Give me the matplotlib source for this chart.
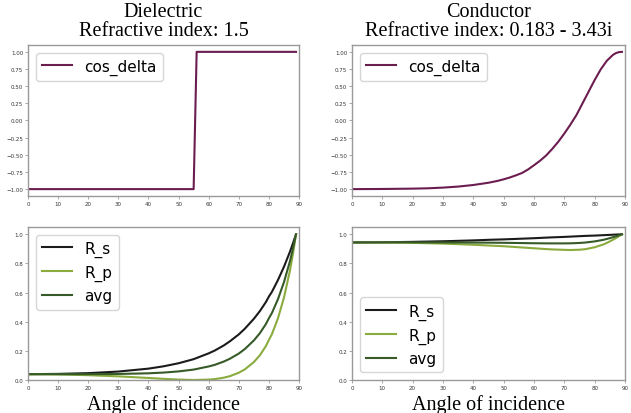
import numpy as np
import matplotlib
matplotlib.use('Agg')
import matplotlib.pyplot as plt

# angle index on the x axis
x_die = [0, 10, 20, 30, 40, 45, 50, 55, 60, 62, 65, 67, 70, 72, 75, 77, 79, 80, 81, 83, 85, 87, 88, 89]
rs_die = [.040, .042, .047, .058, .078, .094, .115, .143, .183, .202, .237, .265, .313, .352,
          .420, .473, .535, .573, .605, .686, .777, .881, .939, 1.0]
rp_die = [.040, .038, .033, .025, .014, .008, .003, .000, .003, .006, .016, .026, .050, .073,
          .123, .170, .233, .275, .315, .423, .566, .752, .868, 1.0]
avg_die = [.040, .040, .040, .0415, .046, .051, .059, .0715, .093, .104, .1265, .1455, .1815, .2125,
           .2715, .3215, .384, .424, .46, .5545, .6715, .8165, .9035, 1.0]

x_cos_die = [0, 55, 56, 89]
cos_die = [-1.0, -1.0, 1.0, 1.0]

x_con = [0, 10, 20, 30, 40, 45, 50, 55, 60, 65, 70, 72, 75, 77, 80, 83, 85, 87, 88, 89]
rs_con = [.944, .945, .948, .952, .958, .962, .965, .969, .973, .978, .982, .984, .987, .989,
          .991, .994, .996, .998, .999, 1.0]
rp_con = [.944, .944, .941, .936, .928, .923, .918, .911, .904, .897, .893, .892, .894, .898,
          .911, .931, .951, .974, .987, 1.0]
avg_con = [.944, .9445, .9445, .944, .943, .9425, .9415, .94, .9385, .9375, .9375, .938, .9405,
           .9435, .951, .9625, .9735, .986, .993, 1.0]

x_cos_con = [0, 10, 20, 25, 30, 35, 40, 45, 48, 50, 52, 54, 56, 58, 60, 62, 64, 66, 68, 70,
             72, 74, 76, 78, 80, 82, 84, 86, 87, 88, 89]
cos_con = [-1.0, -0.998, -0.993, -0.988, -0.978, -0.963, -0.94, -0.907, -0.88, -0.857, -0.831,
           -0.80, -0.766, -0.715, -0.652, -0.586, -0.51, -0.415, -0.31, -0.19, -0.06, 0.08,
           0.25, 0.42, 0.59, 0.745, 0.87, 0.955, 0.982, 0.996, 1.0]

titles = ['Dielectric\nRefractive index: 1.5', 'Conductor\nRefractive index: 0.183 - 3.43i']

c_cos = '#6c1d50'
c_rs = '#1b1b1b'
c_rp = '#8aab3e'
c_avg = '#365a28'

fig = plt.figure(figsize=(6.31, 4.14), dpi=100)
lefts = [0.0444, 0.5578]
widths = [0.4295, 0.4327]
axs = []
for j in range(2):
    top = fig.add_axes([lefts[j], 0.5242, widths[j], 0.3647])
    bot = fig.add_axes([lefts[j], 0.0797, widths[j], 0.3696])
    axs.append((top, bot))

serif = ['Liberation Serif', 'DejaVu Serif']

for j, (top, bot) in enumerate(axs):
    if j == 0:
        top.plot(x_cos_die, cos_die, color=c_cos, lw=1.5, label='cos_delta')
        bot.plot(x_die, rs_die, color=c_rs, lw=1.5, label='R_s')
        bot.plot(x_die, rp_die, color=c_rp, lw=1.5, label='R_p')
        bot.plot(x_die, avg_die, color=c_avg, lw=1.5, label='avg')
        bot.legend(loc='upper left', fontsize=11)
    else:
        top.plot(x_cos_con, cos_con, color=c_cos, lw=1.5, label='cos_delta')
        bot.plot(x_con, rs_con, color=c_rs, lw=1.5, label='R_s')
        bot.plot(x_con, rp_con, color=c_rp, lw=1.5, label='R_p')
        bot.plot(x_con, avg_con, color=c_avg, lw=1.5, label='avg')
        bot.legend(loc='lower left', fontsize=11)
    top.legend(loc='upper left', fontsize=11)
    top.set_title(titles[j], family=serif, fontsize=14.5, pad=7, linespacing=1.05)
    bot.set_xlabel('Angle of incidence', family=serif, fontsize=14.5, labelpad=3)
    bot.set_ylim(0, 1.05)
    for ax in (top, bot):
        ax.set_xlim(0, 90)
        ax.set_xticks(np.arange(0, 91, 10))
        ax.tick_params(labelsize=4, length=2, width=0.6, pad=1.5, colors='#999999', labelcolor='#333333')
        for sp in ax.spines.values():
            sp.set_color('#999999')
            sp.set_linewidth(1.0)
    bot.set_yticks(np.arange(0, 1.01, 0.2))

fig.savefig('out.png', dpi=100)
